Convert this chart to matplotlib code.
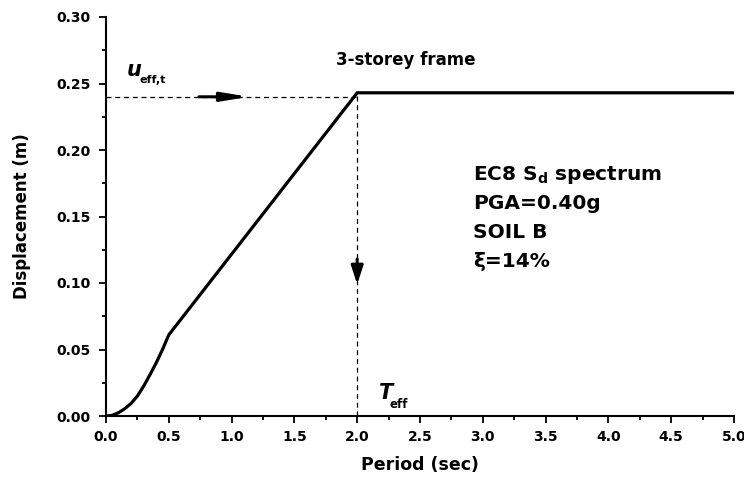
import matplotlib
matplotlib.use('Agg')
import matplotlib.pyplot as plt
from matplotlib.ticker import MultipleLocator

# EC8 displacement spectrum
period = [0.0, 0.05, 0.10, 0.15, 0.20, 0.25, 0.30, 0.35, 0.40, 0.45, 0.50, 2.0, 5.0]
displacement = [0.0, 0.0005, 0.0025, 0.0055, 0.0095, 0.0150, 0.0225, 0.0310, 0.0400, 0.0500, 0.0610, 0.2430, 0.2430]

t_eff = 2.0
u_eff = 0.240

info_lines = [r'EC8 S$_\mathbf{d}$ spectrum', 'PGA=0.40g', 'SOIL B', 'ξ=14%']

plt.rcParams['font.family'] = ['DejaVu Sans']
plt.rcParams['font.weight'] = 'bold'
plt.rcParams['mathtext.fontset'] = 'dejavusans'

fig = plt.figure(figsize=(7.44, 4.78), dpi=100)
ax = fig.add_axes([106 / 744, 62 / 478, 628 / 744, 399 / 478])

ax.plot(period, displacement, color='black', linewidth=2.3, solid_joinstyle='miter')

# dashed guides to the target displacement / effective period
ax.plot([0, t_eff], [u_eff, u_eff], color='black', linewidth=0.9, linestyle=(0, (4, 3)))
ax.plot([t_eff, t_eff], [0, displacement[-1]], color='black', linewidth=0.9, linestyle=(0, (4, 3)))

ax.annotate('', xy=(1.14, u_eff), xytext=(0.74, u_eff),
            arrowprops=dict(arrowstyle='-|>,head_length=1.6,head_width=0.26',
                            color='black', lw=2.2, shrinkA=0, shrinkB=0))
ax.annotate('', xy=(t_eff, 0.099), xytext=(t_eff, 0.118),
            arrowprops=dict(arrowstyle='-|>,head_length=1.1,head_width=0.36',
                            color='black', lw=2.2, shrinkA=0, shrinkB=0))

ax.text(0.167, 0.260, 'u', fontsize=15, fontstyle='italic', fontweight='bold', va='center')
ax.text(0.27, 0.2525, 'eff,t', fontsize=8, fontweight='bold', va='center')
ax.text(2.17, 0.0175, 'T', fontsize=15, fontstyle='italic', fontweight='bold', va='center')
ax.text(2.26, 0.009, 'eff', fontsize=8.5, fontweight='bold', va='center')

ax.text(1.83, 0.268, '3-storey frame', fontsize=12, fontweight='bold', va='center')

for i, line in enumerate(info_lines):
    ax.text(2.92, 0.1814 - i * 0.0218, line, fontsize=14.5, fontweight='bold', va='center')

ax.set_xlim(0, 5)
ax.set_ylim(0, 0.30)
ax.xaxis.set_major_locator(MultipleLocator(0.5))
ax.xaxis.set_minor_locator(MultipleLocator(0.25))
ax.yaxis.set_major_locator(MultipleLocator(0.05))
ax.yaxis.set_minor_locator(MultipleLocator(0.025))
ax.xaxis.set_major_formatter(plt.FormatStrFormatter('%.1f'))
ax.yaxis.set_major_formatter(plt.FormatStrFormatter('%.2f'))

ax.spines['top'].set_visible(False)
ax.spines['right'].set_visible(False)
ax.spines['left'].set_linewidth(1.5)
ax.spines['bottom'].set_linewidth(1.5)
ax.tick_params(which='major', direction='out', length=5, width=1.3, labelsize=10, pad=5)
ax.tick_params(which='minor', direction='out', length=3, width=1.3)
ax.tick_params(axis='y', pad=6)
for lbl in ax.get_xticklabels() + ax.get_yticklabels():
    lbl.set_fontweight('bold')

ax.set_xlabel('Period (sec)', fontsize=12.5, fontweight='bold', labelpad=9)
ax.set_ylabel('Displacement (m)', fontsize=12, fontweight='bold', labelpad=18)

fig.savefig('out.png', dpi=100)
